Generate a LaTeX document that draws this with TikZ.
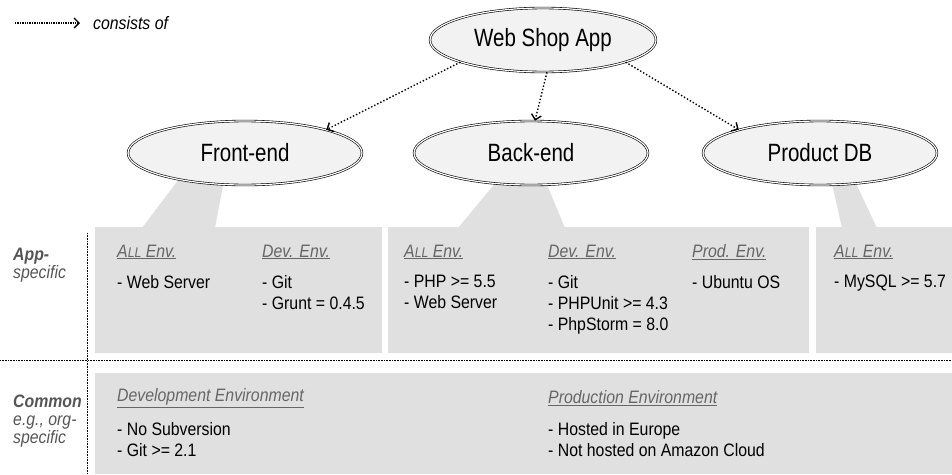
\documentclass[tikz,border=0pt]{standalone}
\usepackage{fontspec}
\setmainfont{Liberation Sans}[FakeStretch=0.88]
\newfontfamily\compfont{Liberation Sans}[FakeStretch=0.82]
\usepackage{xcolor}
\usetikzlibrary{arrows.meta,shapes.geometric,positioning}
\definecolor{boxgray}{HTML}{E0E0E0}
\definecolor{ellfill}{HTML}{F2F2F2}
\definecolor{sidegray}{HTML}{555555}
\definecolor{headgray}{HTML}{666666}
\newcommand{\envhead}[1]{\underline{#1}}
\newcommand{\allenv}{\envhead{A{\fontsize{14}{15}\selectfont LL} Env.}}

\begin{document}
\begin{tikzpicture}[x=1pt,y=-1pt,>={Straight Barb[length=5pt,width=10pt]},
    comp/.style={ellipse,draw,double,double distance=1.2pt,line width=0.6pt,fill=ellfill,inner sep=0pt,minimum height=64pt,font=\compfont\fontsize{25}{30}\selectfont},
    item/.style={anchor=north west,inner sep=0pt,align=left,font=\fontsize{18}{21}\selectfont},
    head/.style={anchor=west,inner sep=0pt,text=headgray,font=\fontsize{18}{21}\selectfont\itshape},
    side/.style={anchor=north west,inner sep=0pt,align=left,text=sidegray,font=\fontsize{18}{18}\selectfont\itshape},
    cons/.style={->,dotted,line width=1.4pt},
    sep/.style={densely dotted,line width=0.6pt}]
    \useasboundingbox (0,0) rectangle (952,474);

    % grey areas
    \fill[boxgray] (95,227) rectangle (382,353);
    \fill[boxgray] (388,227) rectangle (809,353);
    \fill[boxgray] (816,227) rectangle (952,353);
    \fill[boxgray] (95,373) rectangle (952,474);
    \fill[boxgray] (182,175) -- (225,175) -- (215,228) -- (142,228) -- cycle;
    \fill[boxgray] (502,175) -- (543,175) -- (565,228) -- (458,228) -- cycle;
    \fill[boxgray] (830,175) -- (852,175) -- (877,228) -- (842,228) -- cycle;

    \draw[sep] (0,360) -- (952,360);
    \draw[sep] (87,233) -- (87,474);

    % legend
    \coordinate (lgs) at (15,23);
    \coordinate (lge) at (80,23);
    \draw[cons,densely dotted] (lgs) -- (lge);
    \node[right=13pt of lge,inner sep=0pt,font=\fontsize{18}{21}\selectfont\itshape] (lgtext) {consists of};

    \node[comp,minimum width=226pt] (app) at (543,40) {Web Shop App};
    \node[comp,minimum width=234pt] (front) at (245,153) {Front-end};
    \node[comp,minimum width=234pt] (back) at (531,153) {Back-end};
    \node[comp,minimum width=234pt] (prod) at (820,153) {Product DB};

    \draw[cons] (app.195) -- (front.16);
    \draw[cons] (app.277) -- (back.83);
    \draw[cons] (app.345) -- (prod.164);

    % row labels
    \node[side] (appspec) at (13,248) {\textbf{App-}\\specific};
    \node[side] (common) at (13,395) {\textbf{Common}\\e.g., org-\\specific};

    % front-end
    \node[head] (feall) at (117,252) {\allenv};
    \node[item] (feallitems) at (117,275) {- Web Server};
    \node[head] (fedev) at (262,252) {\envhead{Dev. Env.}};
    \node[item] (fedevitems) at (262,275) {- Git\\- Grunt = 0.4.5};

    % back-end
    \node[head] (beall) at (404,252) {\allenv};
    \node[item] (beallitems) at (404,275) {- PHP >= 5.5\\- Web Server};
    \node[head] (bedev) at (548,252) {\envhead{Dev. Env.}};
    \node[item] (bedevitems) at (548,275) {- Git\\- PHPUnit >= 4.3\\- PhpStorm = 8.0};
    \node[head] (beprod) at (692,252) {\envhead{Prod. Env.}};
    \node[item] (beproditems) at (692,275) {- Ubuntu OS};

    % product db
    \node[head] (dball) at (834,252) {\allenv};
    \node[item] (dballitems) at (834,275) {- MySQL >= 5.7};

    % common
    \node[head] (cmdev) at (117,398) {\envhead{Development Environment}};
    \node[item] (cmdevitems) at (117,422) {- No Subversion\\- Git >= 2.1};
    \node[head] (cmprod) at (548,398) {\envhead{Production Environment}};
    \node[item] (cmproditems) at (548,422) {- Hosted in Europe\\- Not hosted on Amazon Cloud};
\end{tikzpicture}
\end{document}
